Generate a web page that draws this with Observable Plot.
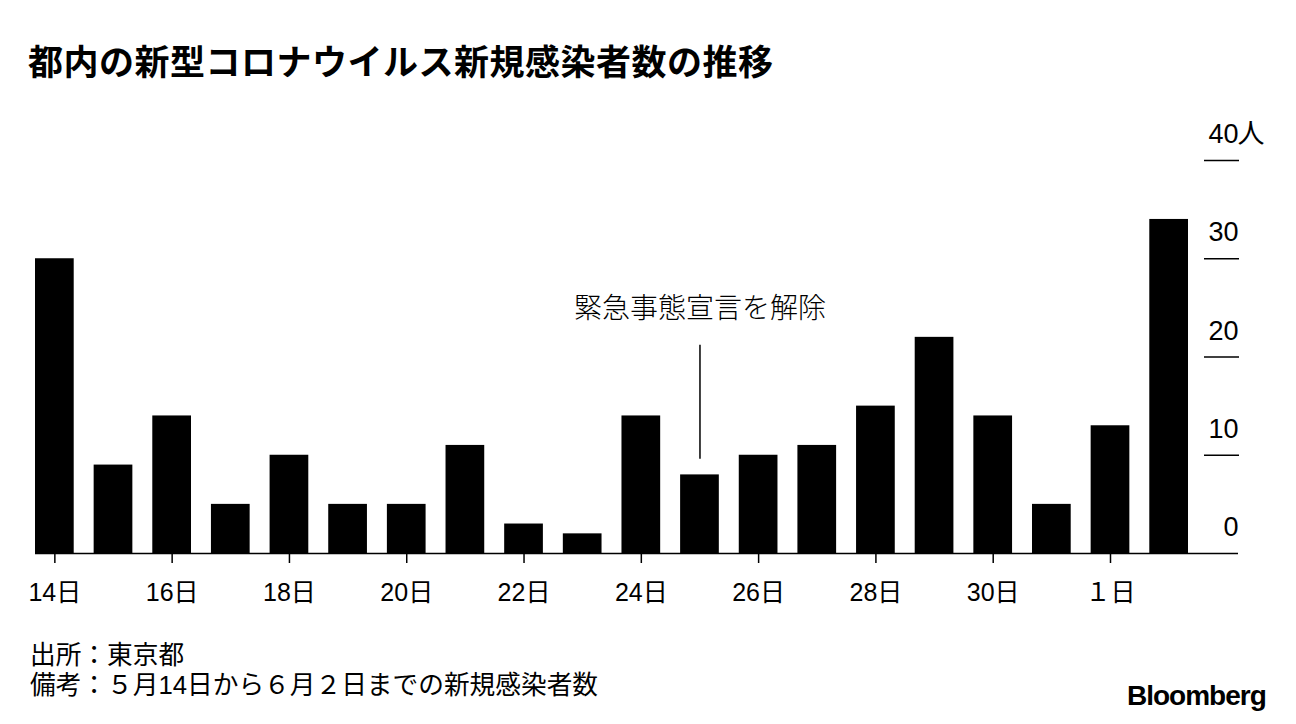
<!DOCTYPE html>
<html><head><meta charset="utf-8">
<script src="https://cdn.jsdelivr.net/npm/d3@7"></script>
<script src="https://cdn.jsdelivr.net/npm/@observablehq/plot@0.6"></script>
<style>
body{margin:0;background:#fff;font-family:"Liberation Sans","Noto Sans CJK JP",sans-serif;color:#000;}
#wrap{position:relative;width:1296px;height:724px;overflow:hidden;}
#title{position:absolute;left:28px;top:42px;font-family:"Noto Sans CJK JP";font-weight:700;font-size:35px;line-height:1;letter-spacing:0.5px;}
#chart{position:absolute;left:0;top:100px;}
#cap{position:absolute;left:30px;top:640px;font-family:"Liberation Sans","Noto Sans CJK JP";font-size:25.7px;line-height:30px;}
#logo{position:absolute;left:1127px;top:680px;font-family:"Liberation Sans";font-weight:700;font-size:28px;letter-spacing:-1px;}
</style></head>
<body><div id="wrap">
<div id="title">都内の新型コロナウイルス新規感染者数の推移</div>
<div id="chart"></div>
<div id="cap">出所：東京都<br>備考：５月14日から６月２日までの新規感染者数</div>
<div id="logo">Bloomberg</div>
</div>
<script>
const days = ["14日","15日","16日","17日","18日","19日","20日","21日","22日","23日","24日","25日","26日","27日","28日","29日","30日","31日","１日","２日"];
const cases = [30,9,14,5,10,5,5,11,3,2,14,8,10,11,15,22,14,5,13,34];
const xTicks = ["14日","16日","18日","20日","22日","24日","26日","28日","30日","１日"];
const yTicks = [0,10,20,30,40];
const yTickLines = [10,20,30,40];
const annotation = [{day:"25日", label:"緊急事態宣言を解除", textY:24.9, lineTop:21.2, lineBottom:9.6}];
const data = days.map((d,i)=>({day:d, value:cases[i]}));

const font = `"Liberation Sans","Noto Sans CJK JP",sans-serif`;
const chart = Plot.plot({
  width:1296, height:530,
  marginLeft:35, marginRight:108, marginTop:60, marginBottom:77,
  style:{fontFamily:font, color:"#000", background:"transparent"},
  x:{type:"band", domain:days, paddingInner:0.34, paddingOuter:0, round:false, axis:null},
  y:{domain:[0,40], axis:null},
  marks:[
    Plot.barY(data,{x:"day", y:"value", fill:"#000"}),
    Plot.ruleY([0],{stroke:"#000", strokeWidth:1.5, insetRight:-50}),
    Plot.axisY(yTickLines,{anchor:"right", tickSize:35, dx:15, tickFormat:()=>"", stroke:"#000", strokeWidth:1.5, label:null}),
    Plot.axisY(yTicks,{anchor:"right", tickSize:0, tickPadding:50, textAnchor:"end", dy:-26, fontSize:27, fill:"#000", label:null}),
    Plot.text([40],{y:d=>d, text:()=>"人", frameAnchor:"right", textAnchor:"start", dx:49, dy:-26, fontSize:27, fill:"#000"}),
    Plot.axisX(xTicks,{anchor:"bottom", tickSize:10, tickPadding:20, fontSize:25, stroke:"#000", strokeWidth:1.5, fill:"#000", label:null}),
    Plot.ruleX(annotation,{x:"day", y1:"lineTop", y2:"lineBottom", stroke:"#000", strokeWidth:1.5}),
    Plot.text(annotation,{x:"day", y:"textY", text:"label", fontSize:28, fill:"#000", fontFamily:"Noto Sans CJK JP", fontWeight:300})
  ]
});
document.getElementById("chart").appendChild(chart);
</script>
</body></html>
